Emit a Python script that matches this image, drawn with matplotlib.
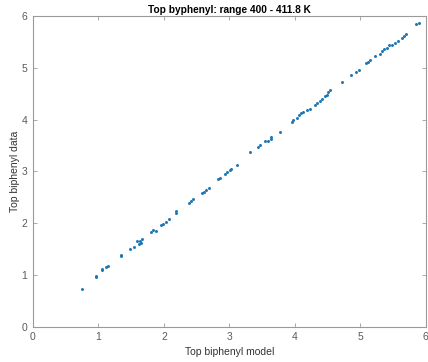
import matplotlib
matplotlib.use("Agg")
import matplotlib.pyplot as plt

# model vs data values
model = [0.75, 0.96, 0.97, 1.05, 1.06, 1.11, 1.14, 1.34, 1.35, 1.48, 1.55, 1.59,
         1.62, 1.64, 1.65, 1.67, 1.81, 1.84, 1.88, 1.95, 1.99, 2.03, 2.07, 2.18,
         2.18, 2.39, 2.41, 2.45, 2.58, 2.61, 2.64, 2.69, 2.83, 2.85, 2.93, 2.97,
         3.01, 3.03, 3.12, 3.32, 3.44, 3.47, 3.54, 3.59, 3.63, 3.64, 3.77, 3.95,
         3.97, 4.03, 4.07, 4.10, 4.13, 4.18, 4.23, 4.31, 4.33, 4.38, 4.41, 4.46,
         4.49, 4.51, 4.53, 4.72, 4.85, 4.94, 4.98, 5.09, 5.12, 5.15, 5.22, 5.30,
         5.33, 5.36, 5.40, 5.44, 5.48, 5.53, 5.58, 5.63, 5.66, 5.70, 5.85, 5.90]
data = [0.73, 0.96, 0.99, 1.10, 1.11, 1.16, 1.18, 1.39, 1.37, 1.51, 1.55, 1.66,
        1.60, 1.66, 1.62, 1.70, 1.84, 1.86, 1.85, 1.96, 1.98, 2.03, 2.08, 2.19,
        2.23, 2.40, 2.43, 2.47, 2.58, 2.61, 2.64, 2.68, 2.86, 2.87, 2.95, 2.98,
        3.02, 3.04, 3.13, 3.38, 3.47, 3.51, 3.59, 3.58, 3.66, 3.62, 3.76, 3.95,
        4.00, 4.04, 4.08, 4.13, 4.14, 4.18, 4.20, 4.29, 4.32, 4.35, 4.40, 4.45,
        4.48, 4.54, 4.58, 4.72, 4.86, 4.91, 4.96, 5.09, 5.12, 5.14, 5.22, 5.26,
        5.33, 5.36, 5.38, 5.43, 5.44, 5.48, 5.51, 5.57, 5.62, 5.66, 5.85, 5.87]
ticks = [0, 1, 2, 3, 4, 5, 6]

plt.rcParams["font.family"] = ["Liberation Sans", "DejaVu Sans"]

fig = plt.figure(figsize=(4.28, 3.62), dpi=100)
ax = fig.add_axes([0.077, 0.097, 0.918, 0.859])

ax.plot(model, data, ".", color="#1f77b4", markersize=2.3)

ax.set_xlim(0, 6)
ax.set_ylim(0, 6)
ax.set_xticks(ticks)
ax.set_yticks(ticks)

gray = "#5a5a5a"
for s in ax.spines.values():
    s.set_color("#9a9a9a")
    s.set_linewidth(0.8)
ax.tick_params(direction="in", length=3, width=0.6, color="#9a9a9a",
               labelcolor=gray, labelsize=7.5, top=True, right=True, pad=4)

ax.set_title("Top byphenyl: range 400 - 411.8 K", fontsize=7.3,
             fontweight="bold", pad=2)
ax.set_xlabel("Top biphenyl model", fontsize=7.5, color="#333333", labelpad=3)
ax.set_ylabel("Top biphenyl data", fontsize=7.5, color="#333333", labelpad=1)

fig.savefig("out.png", dpi=100)
